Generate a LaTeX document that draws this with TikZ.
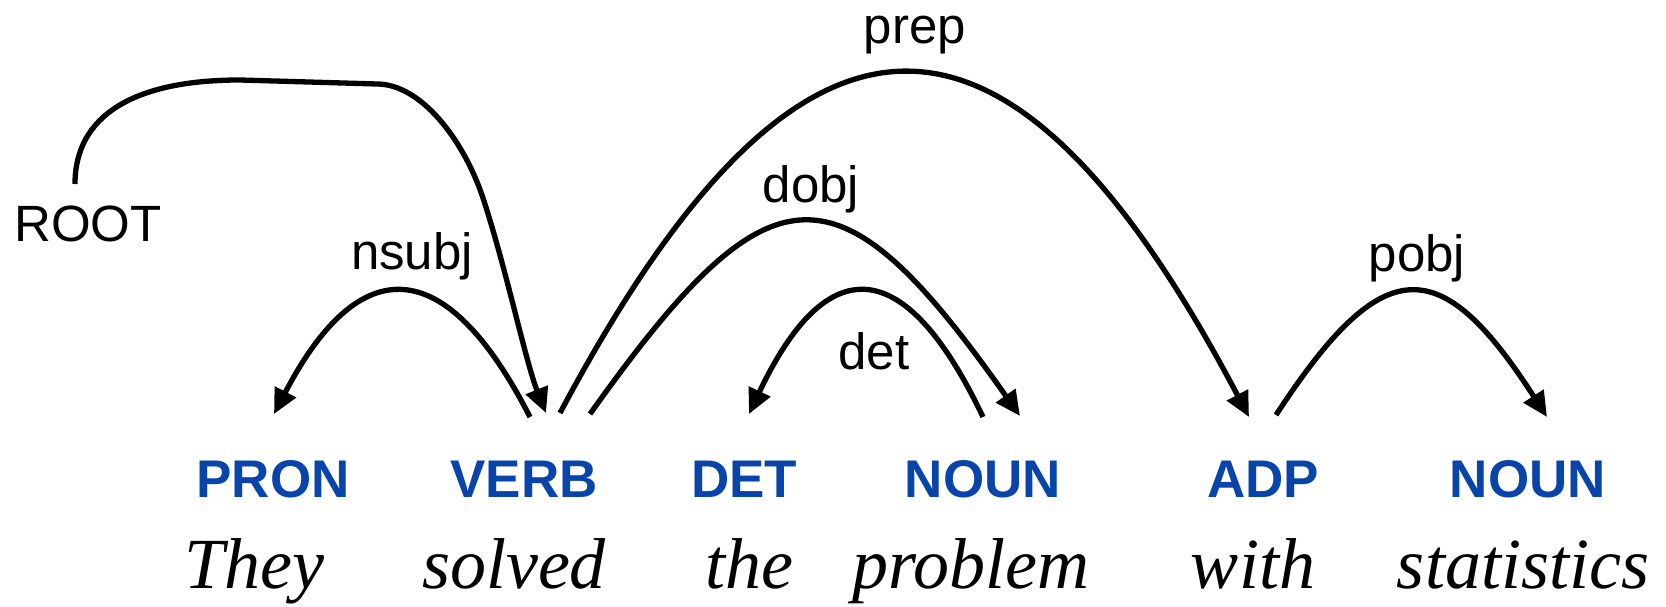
\documentclass[tikz,border=0pt]{standalone}
\usepackage{fontspec}
\setmainfont{Liberation Serif}
\newfontfamily\labelfont{Liberation Sans}
\usetikzlibrary{arrows.meta}
\definecolor{tagblue}{RGB}{8,68,170}
\begin{document}
\begin{tikzpicture}[x=1pt,y=-1pt,
  arc/.style={line width=5.3pt, -{Triangle[length=25pt,width=23pt]}},
  rel/.style={font=\labelfont\fontsize{51}{60}\selectfont, anchor=base, inner sep=0pt},
  tag/.style={font=\labelfont\bfseries\fontsize{53}{60}\selectfont, text=tagblue, anchor=base, inner sep=0pt},
  word/.style={font=\itshape\fontsize{72}{80}\selectfont, anchor=base, inner sep=0pt}]
\useasboundingbox (0,0) rectangle (1666,607);

% sentence
\node[word] (w1) at (254,588) {They};
\node[word] (w2) at (514,588) {solved};
\node[word] (w3) at (749,588) {the};
\node[word] (w4) at (971,588) {problem};
\node[word] (w5) at (1253,588) {with};
\node[word] (w6) at (1523,588) {statistics};

% part-of-speech tags
\node[tag] (t1) at (273,497.5) {PRON};
\node[tag] (t2) at (524,497.5) {VERB};
\node[tag] (t3) at (744,497.5) {DET};
\node[tag] (t4) at (983,497.5) {NOUN};
\node[tag] (t5) at (1263,497.5) {ADP};
\node[tag] (t6) at (1528,497.5) {NOUN};

% relation labels
\node[rel] (lroot)  at (88,241)   {ROOT};
\node[rel] (lnsubj) at (412,269)  {nsubj};
\node[rel] (ldobj)  at (811,202)  {dobj};
\node[rel] (lprep)  at (915,44)   {prep};
\node[rel] (ldet)   at (874,369)  {det};
\node[rel] (lpobj)  at (1417,271) {pobj};

% arc end points above the tags
\coordinate (root-out)  at (75,184);
\coordinate (verb-in)   at (546,413);
\coordinate (nsubj-s)   at (530,417);
\coordinate (pron-in)   at (274,414);
\coordinate (prep-s)    at (560,413);
\coordinate (adp-in)    at (1249,417);
\coordinate (dobj-s)    at (590,414);
\coordinate (noun-in)   at (1020,416);
\coordinate (det-s)     at (983,417);
\coordinate (det-in)    at (749,414);
\coordinate (pobj-s)    at (1276,415);
\coordinate (noun2-in)  at (1547,417);

% dependency arcs
\draw[arc] (root-out) .. controls (75,116) and (133,80) .. (240,80)
  -- (377,84) .. controls (420,84) and (463,138) .. (483,198)
  .. controls (506,268) and (526,363) .. (verb-in);
\draw[arc] (nsubj-s) .. controls (445,251) and (359,251) .. (pron-in);
\draw[arc] (prep-s) .. controls (801,-40) and (1008,-40) .. (adp-in);
\draw[arc] (dobj-s) .. controls (772,158) and (838,158) .. (noun-in);
\draw[arc] (det-s) .. controls (904,251) and (826,251) .. (det-in);
\draw[arc] (pobj-s) .. controls (1383,251) and (1440,251) .. (noun2-in);
\end{tikzpicture}
\end{document}
